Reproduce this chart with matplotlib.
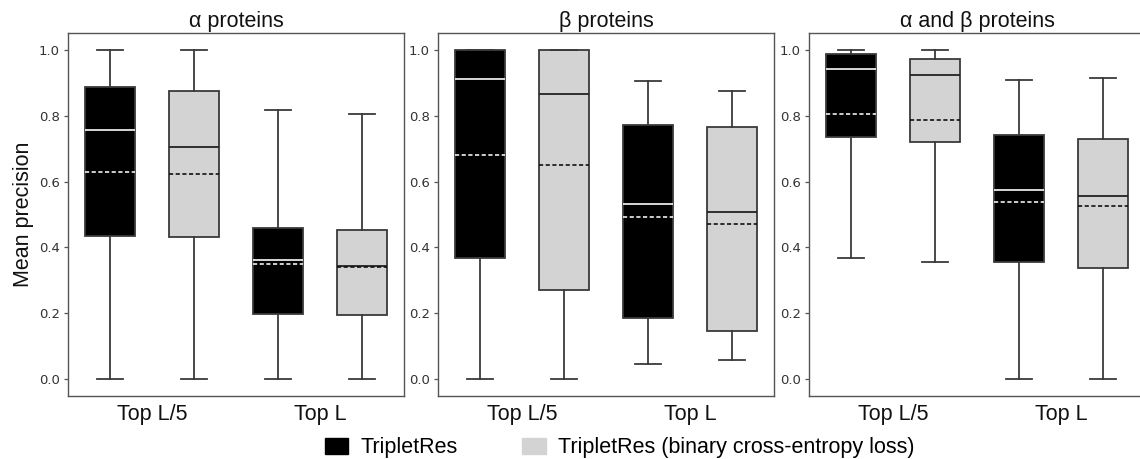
import matplotlib
matplotlib.use('Agg')
import matplotlib.pyplot as plt
from matplotlib.patches import Patch

panel_titles = ["α proteins", "β proteins", "α and β proteins"]
group_labels = ["Top L/5", "Top L"]
series_labels = ["TripletRes", "TripletRes (binary cross-entropy loss)"]
ytick_values = [0.0, 0.2, 0.4, 0.6, 0.8, 1.0]
ylabel = "Mean precision"

# per panel, per group: [whislo, q1, median, mean, q3, whishi]
tripletres_stats = [
    [[0.0, 0.436, 0.757, 0.630, 0.888, 1.0], [0.0, 0.197, 0.363, 0.350, 0.458, 0.819]],
    [[0.0, 0.368, 0.912, 0.681, 1.0, 1.0], [0.045, 0.186, 0.533, 0.491, 0.772, 0.906]],
    [[0.367, 0.737, 0.942, 0.805, 0.988, 1.0], [0.0, 0.357, 0.573, 0.539, 0.741, 0.910]],
]
bce_stats = [
    [[0.0, 0.432, 0.706, 0.622, 0.876, 1.0], [0.0, 0.193, 0.343, 0.339, 0.454, 0.806]],
    [[0.0, 0.271, 0.866, 0.650, 1.0, 1.0], [0.056, 0.147, 0.509, 0.470, 0.765, 0.876]],
    [[0.356, 0.719, 0.923, 0.787, 0.974, 1.0], [0.0, 0.337, 0.555, 0.526, 0.729, 0.914]],
]

plt.rcParams['font.family'] = ['Liberation Sans', 'DejaVu Sans']

W, H = 1140, 459
fig = plt.figure(figsize=(W / 100, H / 100), dpi=100)

edge = '#3a3a3a'
lefts = [68, 438, 809]
ax_w = 336
ax_bottom = 459 - 396
ax_h = 396 - 33


def to_bxp(s):
    return dict(whislo=s[0], q1=s[1], med=s[2], mean=s[3], q3=s[4], whishi=s[5], fliers=[])


axes = []
for i in range(3):
    ax = fig.add_axes([lefts[i] / W, ax_bottom / H, ax_w / W, ax_h / H])
    axes.append(ax)
    common = dict(widths=0.6, showmeans=True, meanline=True, showfliers=False, patch_artist=True)
    ax.bxp([to_bxp(s) for s in tripletres_stats[i]], positions=[0, 2],
           boxprops=dict(facecolor='black', edgecolor=edge, linewidth=1.3),
           whiskerprops=dict(color=edge, linewidth=1.3),
           capprops=dict(color=edge, linewidth=1.3),
           medianprops=dict(color='#e8e8e8', linewidth=1.3),
           meanprops=dict(color='#f0f0f0', linewidth=1.2, linestyle=(0, (2.5, 1.5))),
           **common)
    ax.bxp([to_bxp(s) for s in bce_stats[i]], positions=[1, 3],
           boxprops=dict(facecolor='#d3d3d3', edgecolor=edge, linewidth=1.3),
           whiskerprops=dict(color=edge, linewidth=1.3),
           capprops=dict(color=edge, linewidth=1.3),
           medianprops=dict(color='#222222', linewidth=1.3),
           meanprops=dict(color='#111111', linewidth=1.2, linestyle=(0, (2.5, 1.5))),
           **common)
    ax.set_xlim(-0.5, 3.5)
    ax.set_ylim(-0.052, 1.052)
    ax.set_xticks([0.5, 2.5])
    ax.set_xticklabels(group_labels, fontsize=15.5, color='#111111')
    ax.tick_params(axis='x', length=0, pad=6)
    ax.set_yticks(ytick_values)
    ax.set_yticklabels([f"{v:.1f}" for v in ytick_values], fontsize=9.5,
                       color='#333333', family='DejaVu Sans')
    ax.tick_params(axis='y', length=3, width=0.9, color='#555555', pad=3)
    for sp in ax.spines.values():
        sp.set_color('#555555')
        sp.set_linewidth(1.0)
    ax.set_title(panel_titles[i], fontsize=15.5, pad=4, color='#111111')

axes[0].set_ylabel(ylabel, fontsize=15.5, color='#111111', labelpad=3)

handles = [Patch(facecolor='black', edgecolor='black'),
           Patch(facecolor='#d3d3d3', edgecolor='#d3d3d3')]
fig.legend(handles, series_labels, loc='center', bbox_to_anchor=(619.5 / W, 11 / H),
           ncol=2, frameon=False, fontsize=15.5, handlelength=1.1, handleheight=0.75,
           handletextpad=0.55, columnspacing=3.0, borderpad=0.1)

fig.savefig('out.png', dpi=100)
